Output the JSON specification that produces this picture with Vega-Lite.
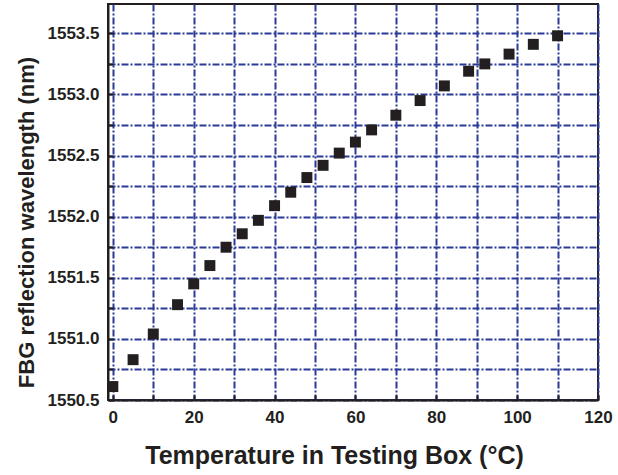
{
  "$schema": "https://vega.github.io/schema/vega-lite/v6.json",
  "width": 490,
  "height": 396,
  "autosize": {"type": "none"},
  "padding": {"left": 108, "top": 4, "right": 20, "bottom": 75},
  "background": "white",
  "data": {
    "values": [
      {"T": 0, "wl": 1550.61},
      {"T": 5, "wl": 1550.83},
      {"T": 10, "wl": 1551.04},
      {"T": 16, "wl": 1551.28},
      {"T": 20, "wl": 1551.45},
      {"T": 24, "wl": 1551.60},
      {"T": 28, "wl": 1551.75},
      {"T": 32, "wl": 1551.86},
      {"T": 36, "wl": 1551.97},
      {"T": 40, "wl": 1552.09},
      {"T": 44, "wl": 1552.20},
      {"T": 48, "wl": 1552.32},
      {"T": 52, "wl": 1552.42},
      {"T": 56, "wl": 1552.52},
      {"T": 60, "wl": 1552.61},
      {"T": 64, "wl": 1552.71},
      {"T": 70, "wl": 1552.83},
      {"T": 76, "wl": 1552.95},
      {"T": 82, "wl": 1553.07},
      {"T": 88, "wl": 1553.19},
      {"T": 92, "wl": 1553.25},
      {"T": 98, "wl": 1553.33},
      {"T": 104, "wl": 1553.41},
      {"T": 110, "wl": 1553.48}
    ]
  },
  "mark": {"type": "square", "filled": true, "color": "#231f20", "size": 120, "opacity": 1},
  "encoding": {
    "x": {
      "field": "T",
      "type": "quantitative",
      "scale": {"domain": [-1.2, 120], "nice": false, "zero": false},
      "axis": {
        "title": "Temperature in Testing Box (°C)",
        "values": [0, 10, 20, 30, 40, 50, 60, 70, 80, 90, 100, 110, 120],
        "labelExpr": "datum.value % 20 == 0 ? datum.label : ''",
        "format": "d",
        "titleX": 226,
        "titleY": 63,
        "titleAlign": "center",
        "titleBaseline": "alphabetic",
        "titleAnchor": null
      }
    },
    "y": {
      "field": "wl",
      "type": "quantitative",
      "scale": {"domain": [1550.5, 1553.74], "nice": false, "zero": false},
      "axis": {
        "title": "FBG reflection wavelength (nm)",
        "values": [1550.5, 1550.75, 1551, 1551.25, 1551.5, 1551.75, 1552, 1552.25, 1552.5, 1552.75, 1553, 1553.25, 1553.5],
        "format": ".1f",
        "labelExpr": "datum.value % 0.5 == 0 ? datum.label : ''",
        "titleX": -75,
        "titleY": 218,
        "titleAlign": "center",
        "titleBaseline": "alphabetic",
        "titleAngle": -90,
        "titleAnchor": null
      }
    }
  },
  "config": {
    "view": {"stroke": "#231f20", "strokeWidth": 2},
    "axis": {
      "grid": true,
      "gridColor": "#2b3a96",
      "gridWidth": 2,
      "gridDash": [7, 2, 2, 2],
      "gridOpacity": 1,
      "domain": true,
      "domainColor": "#231f20",
      "domainWidth": 2,
      "ticks": true,
      "tickColor": "#231f20",
      "tickWidth": 2,
      "tickSize": -5,
      "labelFont": "Liberation Sans",
      "labelFontWeight": "bold",
      "labelFontSize": 17,
      "labelColor": "#231f20",
      "labelPadding": 14,
      "labelOverlap": false,
      "labelFlush": false,
      "titleFont": "Liberation Sans",
      "titleFontWeight": "bold",
      "titleColor": "#231f20"
    },
    "axisX": {"titleFontSize": 25},
    "axisY": {"titleFontSize": 22}
  }
}
